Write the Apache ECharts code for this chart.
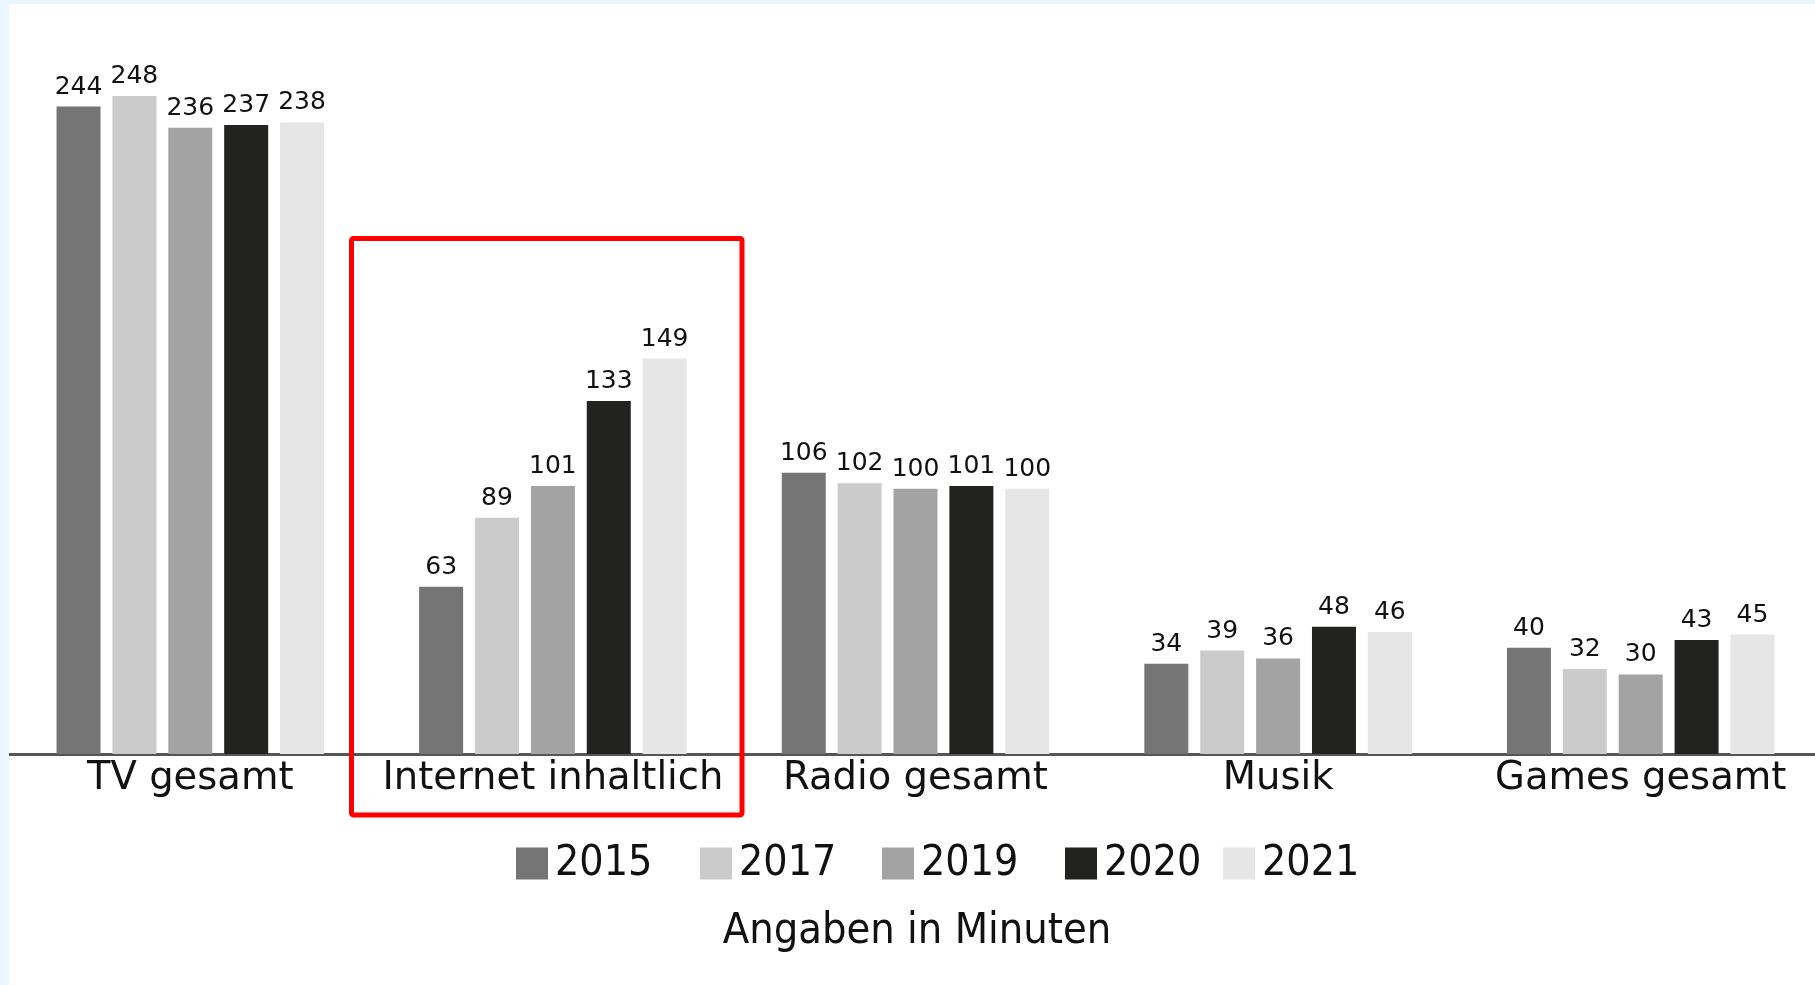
<!DOCTYPE html>
<html>
<head>
<meta charset="utf-8">
<title>Angaben in Minuten</title>
<script src="https://cdn.jsdelivr.net/npm/echarts@6/dist/echarts.min.js"></script>
<style>
	html, body {
		margin: 0;
		padding: 0;
		background: #eaf6fe;
	}
	#main {
		position: absolute;
		left: 9px;
		top: 4px;
		width: 1806px;
		height: 981px;
		background: #ffffff;
	}
</style>
</head>
<body>
<div id="main"></div>
<script>
var categories = ['TV gesamt', 'Internet inhaltlich', 'Radio gesamt', 'Musik', 'Games gesamt'];
var years = ['2015', '2017', '2019', '2020', '2021'];
var values2015 = [244, 63, 106, 34, 40];
var values2017 = [248, 89, 102, 39, 32];
var values2019 = [236, 101, 100, 36, 30];
var values2020 = [237, 133, 101, 48, 43];
var values2021 = [238, 149, 100, 46, 45];
var footnote = 'Angaben in Minuten';

var colors = ['#757575', '#cbcbcb', '#a3a3a3', '#222221', '#e6e6e6'];
var legendLeft = [507, 691, 873, 1056, 1214];

function drawChart(showAreaId) {
	var myChart = echarts.init(document.getElementById(showAreaId));
	var allValues = [values2015, values2017, values2019, values2020, values2021];

	var series = [];
	var legends = [];
	for (var i = 0; i < years.length; i++) {
		series.push({
			name: years[i],
			type: 'bar',
			barWidth: 44,
			barGap: '27%',
			itemStyle: {color: colors[i]},
			label: {
				show: true,
				position: 'top',
				distance: 7,
				fontSize: 25,
				fontFamily: 'DejaVu Sans',
				color: '#111'
			},
			data: allValues[i]
		});
		// one legend per year, the gaps in the source are not even
		legends.push({
			data: [years[i]],
			left: legendLeft[i],
			top: 838,
			padding: 0,
			icon: 'rect',
			itemWidth: 32,
			itemHeight: 32,
			selectedMode: false,
			textStyle: {
				fontSize: 42.5,
				fontFamily: 'DejaVu Sans Condensed, Liberation Sans Narrow, DejaVu Sans',
				color: '#111',
				padding: [0, 0, 0, 2]
			}
		});
	}

	var option = {
		animation: false,
		color: colors,
		title: {
			text: footnote,
			left: 908,
			top: 906,
			textAlign: 'center',
			padding: 0,
			textStyle: {
				fontSize: 43,
				fontWeight: 'normal',
				fontFamily: 'DejaVu Sans Condensed, Liberation Sans Narrow, DejaVu Sans',
				color: '#111'
			}
		},
		legend: legends,
		grid: {
			left: 0,
			width: 1813,
			top: 7,
			bottom: 231,
			outerBoundsMode: 'none'
		},
		xAxis: {
			type: 'category',
			data: categories,
			axisTick: {show: false},
			axisLine: {
				lineStyle: {color: '#555', width: 3}
			},
			axisLabel: {
				margin: 5,
				fontSize: 38.5,
				fontFamily: 'DejaVu Sans',
				color: '#111',
				interval: 0
			}
		},
		yAxis: {
			type: 'value',
			min: 0,
			max: 280,
			show: false,
			splitLine: {show: false}
		},
		graphic: [
			{
				type: 'rect',
				shape: {x: 342.5, y: 234.5, width: 390.5, height: 576.5, r: 2},
				style: {fill: 'none', stroke: '#ff0000', lineWidth: 5},
				z: 100
			}
		],
		series: series
	};
	myChart.setOption(option);
}

drawChart('main');
</script>
</body>
</html>
